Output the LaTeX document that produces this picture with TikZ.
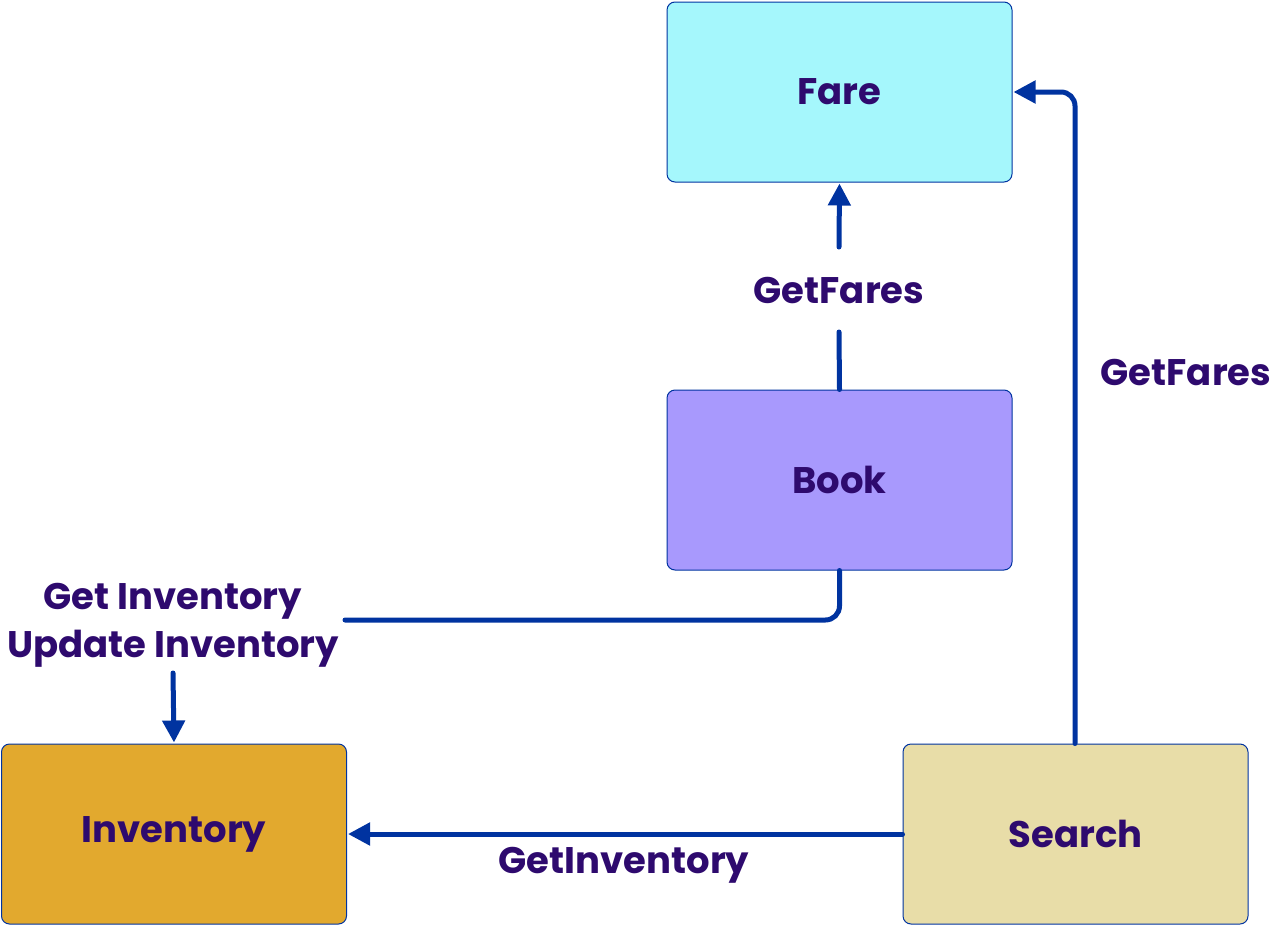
\documentclass[tikz,border=0pt]{standalone}
\usepackage{fontspec}
\setmainfont{Poppins}
\usetikzlibrary{arrows.meta}
\definecolor{txt}{HTML}{2E0A6E}
\definecolor{ln}{HTML}{0033A0}
\definecolor{farec}{HTML}{A5F7FC}
\definecolor{bookc}{HTML}{A899FD}
\definecolor{invc}{HTML}{E2A92E}
\definecolor{searchc}{HTML}{E8DDA8}
\tikzset{
  box/.style={draw=ln, line width=1pt, rounded corners=8pt, minimum width=345pt, minimum height=180pt, inner sep=0pt, text=txt, font=\fontsize{37}{48}\selectfont\bfseries},
  lbl/.style={text=txt, font=\fontsize{37}{48}\selectfont\bfseries, align=center, inner sep=0pt},
  conn/.style={draw=ln, line width=5pt, line cap=round, rounded corners=14pt},
  arr/.style={conn, -{Triangle[length=22pt,width=22pt]}, shorten >=1pt}
}
\begin{document}
\begin{tikzpicture}[x=1pt,y=-1pt]
\useasboundingbox (0,0) rectangle (1285,926);
\node[box, fill=farec] (fare) at (839.5,92) {Fare};
\node[box, fill=bookc] (book) at (839.5,480) {Book};
\node[box, fill=invc] (inv) at (174,834) {Inventory};
\node[box, fill=searchc] (search) at (1075.5,834) {Search};
\node[lbl] (l1) at (839,291) {GetFares};
\node[lbl] (l2) at (1186,373) {GetFares};
\node[lbl] (l3) at (624,865) {GetInventory};
\node[lbl] (l4) at (173,625) {Get Inventory\\Update Inventory};
\coordinate (l1b) at (839,332);
\coordinate (l1t) at (839,247);
\coordinate (l4e) at (345,620);
\coordinate (l4s) at (173,673);
\draw[conn] (book.north) -- (l1b);
\draw[arr] (l1t) -- (fare.south);
\draw[conn] (book.south) |- (l4e);
\draw[arr] (l4s) -- (inv.north);
\draw[arr] (search.west) -- (inv.east);
\draw[arr] (search.north -| 1075,0) |- (fare.east);
\end{tikzpicture}
\end{document}
